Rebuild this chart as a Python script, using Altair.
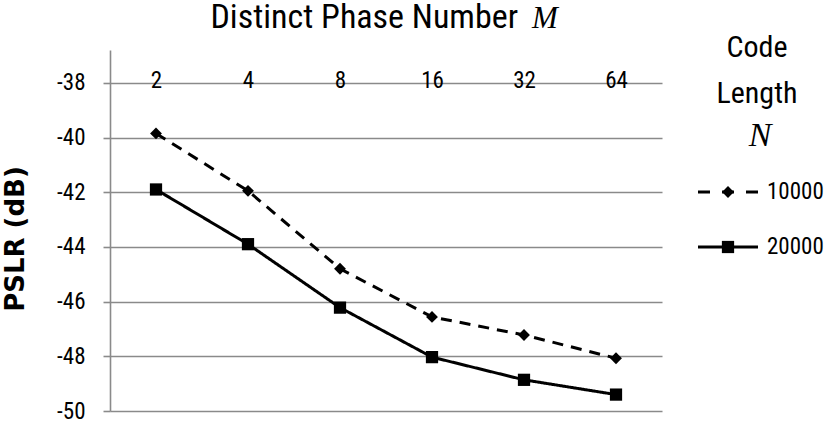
import altair as alt
import pandas as pd

phases = ["2", "4", "8", "16", "32", "64"]
series = ["10000", "20000"]
pslr_10000 = [-39.85, -41.95, -44.8, -46.56, -47.22, -48.07]
pslr_20000 = [-41.9, -43.9, -46.22, -48.03, -48.86, -49.4]
y_ticks = [-50, -48, -46, -44, -42, -40, -38]

rows = []
for s, vals in zip(series, [pslr_10000, pslr_20000]):
    for m, v in zip(phases, vals):
        rows.append({"M": m, "PSLR": v, "N": s})
df = pd.DataFrame(rows)

NARROW = "Roboto Condensed, Liberation Sans Narrow, DejaVu Sans Condensed, sans-serif"
SERIF = "Liberation Serif, Times New Roman, serif"
GRID = "#8a8a8a"

x_enc = alt.X(
    "M:O", sort=phases,
    scale=alt.Scale(type="point", padding=0.5),
    axis=alt.Axis(orient="top", title=None, domain=False, ticks=False, grid=False,
                  labelAngle=0, labelFont=NARROW, labelFontSize=23, labelColor="black",
                  labelPadding=-37, labelBaseline="alphabetic"),
)
y_enc = alt.Y(
    "PSLR:Q",
    scale=alt.Scale(domain=[-50, -36.8], nice=False, zero=False),
    axis=alt.Axis(values=y_ticks, title=None, grid=True, gridColor=GRID, gridWidth=1.6,
                  domainColor=GRID, domainWidth=1.6, tickColor=GRID, tickWidth=1.6, tickSize=7,
                  labelFont=NARROW, labelFontSize=23, labelColor="black", labelPadding=18,
                  labelExpr="replace(datum.label, '\u2212', '-')"),
)

dash_scale = alt.Scale(domain=series, range=[[11, 8], [1, 0]])
shape_scale = alt.Scale(domain=series, range=["diamond", "square"])

lines = alt.Chart(df).mark_line(color="black", strokeWidth=3).encode(
    x=x_enc, y=y_enc,
    strokeDash=alt.StrokeDash("N:N", scale=dash_scale, legend=None),
    detail="N:N",
)
points = alt.Chart(df).mark_point(color="black", filled=True, opacity=1).encode(
    x=alt.X("M:O", sort=phases), y="PSLR:Q",
    shape=alt.Shape("N:N", scale=shape_scale, legend=None),
    size=alt.Size("N:N", scale=alt.Scale(domain=series, range=[140, 150]), legend=None),
)

one = pd.DataFrame({"k": [0]})

def txt(text, x, y, font=NARROW, size=22, style="normal", weight="normal", align="center",
        baseline="middle", angle=0):
    return alt.Chart(one).mark_text(
        text=text, font=font, fontSize=size, fontStyle=style, fontWeight=weight,
        align=align, baseline=baseline, angle=angle, color="black",
    ).encode(x=alt.value(x), y=alt.value(y))

title1 = txt("Distinct Phase Number", 408, -22, size=34, align="right", baseline="alphabetic")
title2 = txt("M", 422, -22, font=SERIF, size=31, style="italic", align="left", baseline="alphabetic")
ytitle = txt("PSLR (dB)", -94, 189, font="DejaVu Sans", size=26, weight="bold", angle=270)
lt1 = txt("Code", 647, -2, size=30)
lt2 = txt("Length", 647, 44, size=30)
lt3 = txt("N", 650, 86, font=SERIF, size=34, style="italic")

leg_layers = []
for s, yy, dash, shp, sz in [(series[0], 142, [12, 12], "diamond", 140), (series[1], 197, [1, 0], "square", 150)]:
    leg_layers.append(alt.Chart(one).mark_rule(color="black", strokeWidth=3, strokeDash=dash).encode(
        x=alt.value(588), x2=alt.value(648), y=alt.value(yy)))
    leg_layers.append(alt.Chart(one).mark_point(shape=shp, filled=True, color="black", opacity=1, size=sz).encode(
        x=alt.value(618), y=alt.value(yy)))
    leg_layers.append(txt(s, 657, yy, size=23, align="left"))

chart = alt.layer(lines, points, title1, title2, ytitle, lt1, lt2, lt3, *leg_layers).properties(
    width=552, height=361, autosize="none",
    padding={"left": 110, "top": 50, "right": 165, "bottom": 11},
    background="white",
).configure_view(stroke=None)

chart.save("out.html", embed_options={"renderer": "svg", "actions": False})
